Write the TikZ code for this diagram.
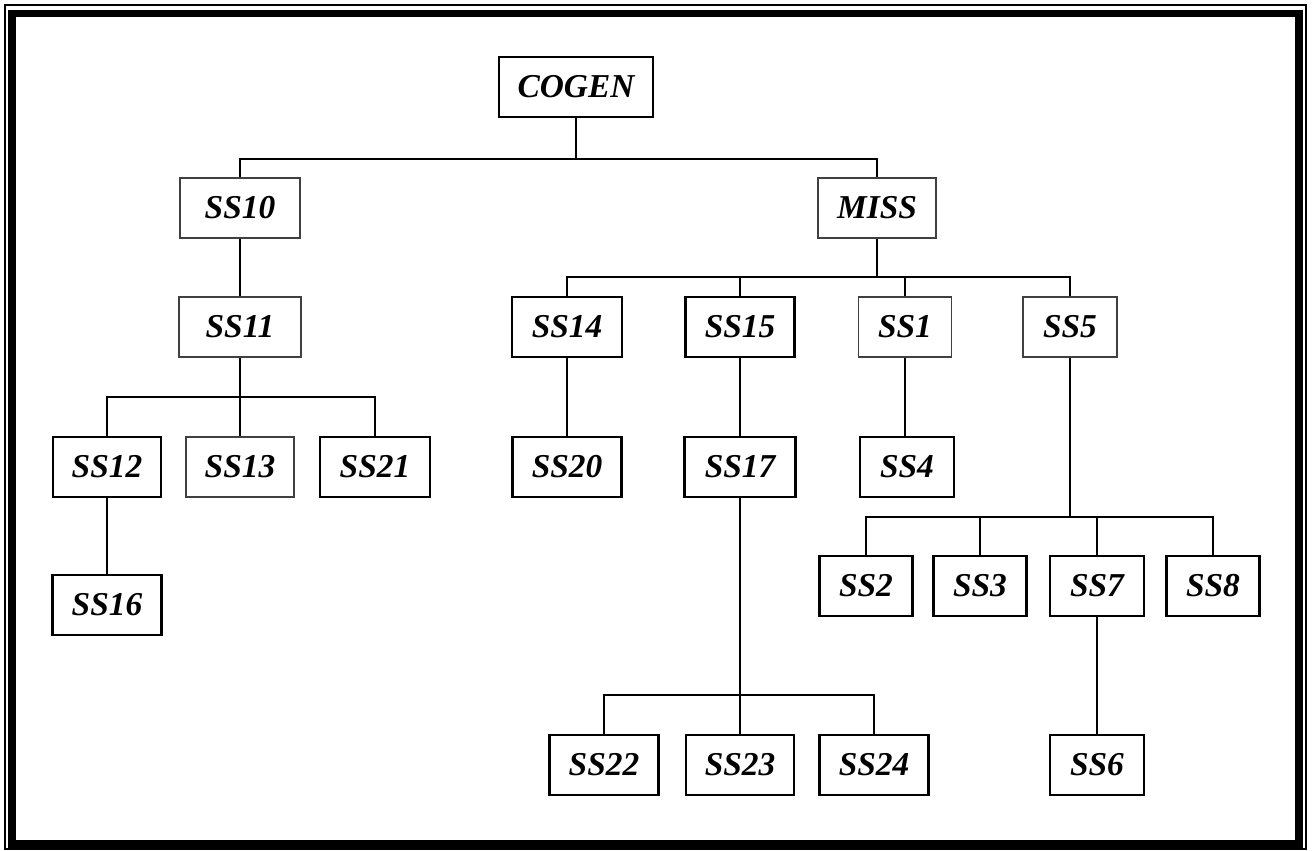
\documentclass[tikz,border=0pt]{standalone}
\usepackage{fontspec}
\setmainfont{Liberation Serif}
\begin{document}
\begin{tikzpicture}[x=0.02cm,y=-0.02cm,
  box/.style={draw,line width=1.5pt,minimum height=1.2cm,inner sep=0pt,
    font=\fontsize{19}{22}\selectfont\bfseries\itshape},
  lightbox/.style={box,line width=0.7pt,draw=black!75},
  link/.style={line width=1pt}]
  \useasboundingbox (0,0) rectangle (1312,850);
  % frame
  \draw[line width=0.8pt] (5,5) rectangle (1306,849);
  \draw[line width=4.5pt] (12,13.5) rectangle (1299,844);
  % boxes
  \node[box,line width=1.1pt,minimum width=3.08cm] (COGEN) at (576,87) {COGEN};
  \node[lightbox,minimum width=2.4cm] (SS10) at (240,208) {SS10};
  \node[lightbox,minimum width=2.36cm] (MISS) at (877,208) {MISS};
  \node[lightbox,minimum width=2.44cm] (SS11) at (240,327) {SS11};
  \node[box,minimum width=2.2cm] (SS14) at (567,327) {SS14};
  \node[box,minimum width=2.18cm] (SS15) at (740,327) {SS15};
  \node[lightbox,minimum width=1.86cm] (SS1) at (905,327) {SS1};
  \node[lightbox,minimum width=1.88cm] (SS5) at (1070,327) {SS5};
  \node[box,minimum width=2.16cm] (SS12) at (107,467) {SS12};
  \node[lightbox,minimum width=2.16cm] (SS13) at (240,467) {SS13};
  \node[box,minimum width=2.2cm] (SS21) at (375,467) {SS21};
  \node[box,minimum width=2.18cm] (SS20) at (567,467) {SS20};
  \node[box,minimum width=2.22cm] (SS17) at (740,467) {SS17};
  \node[box,minimum width=1.88cm] (SS4) at (907,467) {SS4};
  \node[box,minimum width=2.18cm] (SS16) at (107,605) {SS16};
  \node[box,minimum width=1.86cm] (SS2) at (866,586) {SS2};
  \node[box,minimum width=1.86cm] (SS3) at (980,586) {SS3};
  \node[box,minimum width=1.88cm] (SS7) at (1097,586) {SS7};
  \node[box,minimum width=1.86cm] (SS8) at (1213,586) {SS8};
  \node[box,minimum width=2.18cm] (SS22) at (604,765) {SS22};
  \node[box,minimum width=2.16cm] (SS23) at (740,765) {SS23};
  \node[box,minimum width=2.18cm] (SS24) at (874,765) {SS24};
  \node[box,minimum width=1.88cm] (SS6) at (1097,765) {SS6};
  % bus points
  \coordinate (busCOGEN) at (576,159);
  \coordinate (busMISS) at (877,277);
  \coordinate (busSS11) at (240,397);
  \coordinate (busSS5) at (1070,517);
  \coordinate (busSS17) at (740,695);
  % links
  \draw[link] (COGEN.south) -- (busCOGEN);
  \draw[link] (SS10.north) |- (busCOGEN) -| (MISS.north);
  \draw[link] (MISS.south) -- (busMISS);
  \draw[link] (SS14.north) |- (busMISS) -| (SS5.north);
  \draw[link] (SS11.south) -- (busSS11);
  \draw[link] (SS12.north) |- (busSS11) -| (SS21.north);
  \draw[link] (SS5.south) -- (busSS5);
  \draw[link] (SS2.north) |- (busSS5) -| (SS8.north);
  \draw[link] (SS17.south) -- (busSS17);
  \draw[link] (SS22.north) |- (busSS17) -| (SS24.north);
  \foreach \child/\bus in {SS15/busMISS,SS1/busMISS,SS13/busSS11,SS3/busSS5,SS7/busSS5,SS23/busSS17}
    \draw[link] (\child.north) -- (\child.north |- \bus);
  \foreach \upper/\lower in {SS10/SS11,SS12/SS16,SS14/SS20,SS15/SS17,SS1/SS4,SS7/SS6}
    \draw[link] (\upper.south) -- (\upper.south |- \lower.north);
\end{tikzpicture}
\end{document}
